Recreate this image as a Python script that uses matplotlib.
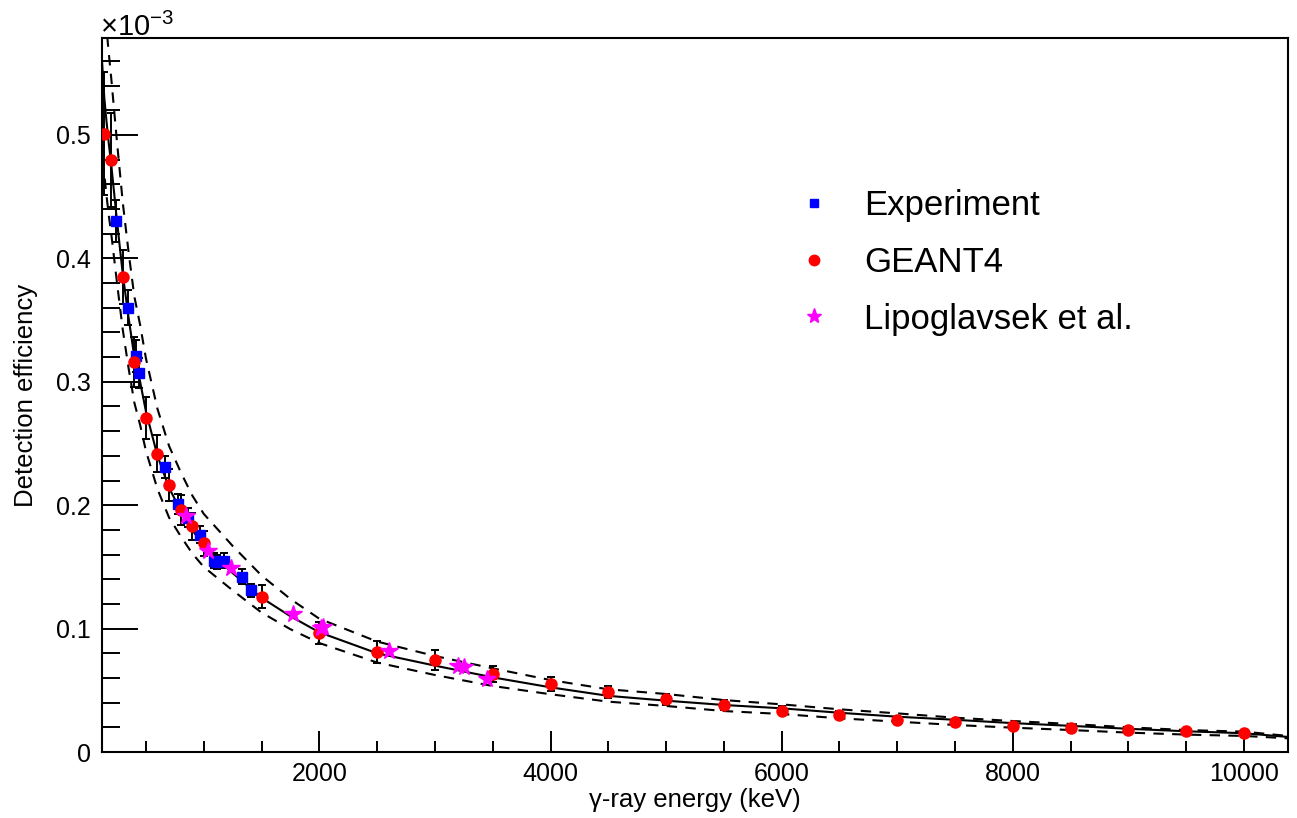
import matplotlib
matplotlib.use("Agg")
import matplotlib.pyplot as plt
from matplotlib.lines import Line2D
from matplotlib.ticker import MultipleLocator

plt.rcParams['font.family'] = ['Liberation Sans', 'DejaVu Sans']
plt.rcParams['mathtext.fontset'] = 'custom'
plt.rcParams['mathtext.rm'] = 'Liberation Sans'

# ------------------------------------------------------------------
# dados (eficiência em unidades de 1e-3)
# ------------------------------------------------------------------
exp_E = [244.7, 344.3, 411.1, 444.0, 661.7, 778.9, 867.4, 964.1,
         1085.8, 1112.1, 1173.2, 1332.5, 1408.0]
exp_eff = [0.430, 0.360, 0.321, 0.307, 0.231, 0.201, 0.190, 0.176,
           0.155, 0.154, 0.155, 0.142, 0.131]
exp_err = [0.017, 0.014, 0.013, 0.012, 0.009, 0.008, 0.008, 0.007,
           0.006, 0.006, 0.006, 0.006, 0.005]

g4_E = [140, 200, 300, 400, 500, 600, 700, 800, 900, 1000, 1500,
        2000, 2500, 3000, 3500, 4000, 4500, 5000, 5500, 6000, 6500,
        7000, 7500, 8000, 8500, 9000, 9500, 10000]
g4_eff = [0.501, 0.480, 0.385, 0.316, 0.271, 0.2415, 0.216, 0.196,
          0.183, 0.169, 0.126, 0.0964, 0.0813, 0.0746, 0.0635, 0.0551,
          0.0484, 0.0427, 0.0381, 0.0335, 0.0300, 0.0259, 0.0246,
          0.0211, 0.0192, 0.0178, 0.0170, 0.0151]
g4_err = [0.050, 0.038, 0.022, 0.020, 0.017, 0.015, 0.013, 0.012,
          0.011, 0.010, 0.0095, 0.0088, 0.0090, 0.0081, 0.0065, 0.0055,
          0.0050, 0.0045, 0.0040, 0.0035, 0.0030, 0.0027, 0.0025,
          0.0021, 0.0020, 0.0018, 0.0017, 0.0015]

lip_E = [846.8, 1037.8, 1238.3, 1771.4, 2015.2, 2034.8, 2598.5,
         3201.9, 3253.5, 3451.2]
lip_eff = [0.191, 0.163, 0.149, 0.112, 0.1005, 0.1010, 0.0818,
           0.0697, 0.0686, 0.0589]

# curva ajustada e banda
fit_E = [120, 140, 160, 180, 200, 250, 300, 350, 400, 450, 500, 600,
         700, 800, 900, 1000, 1250, 1500, 1750, 2000, 2500, 3000, 3500,
         4000, 4500, 5000, 5500, 6000, 6500, 7000, 7500, 8000, 8500,
         9000, 9500, 10000, 10380]
fit_mid = [0.560, 0.530, 0.510, 0.492, 0.476, 0.430, 0.387, 0.352,
           0.320, 0.300, 0.276, 0.240, 0.214, 0.196, 0.180, 0.167,
           0.145, 0.125, 0.110, 0.097, 0.080, 0.0700, 0.0605, 0.0524,
           0.0455, 0.0416, 0.0381, 0.0354, 0.0318, 0.0286, 0.0261,
           0.0234, 0.0212, 0.0188, 0.0168, 0.0152, 0.0122]
fit_hi = [0.645, 0.610, 0.585, 0.565, 0.546, 0.494, 0.445, 0.405,
          0.369, 0.346, 0.319, 0.278, 0.248, 0.227, 0.208, 0.193,
          0.167, 0.143, 0.124, 0.108, 0.0895, 0.0778, 0.0678, 0.0583,
          0.0508, 0.0470, 0.0421, 0.0386, 0.0346, 0.0313, 0.0278,
          0.0251, 0.0227, 0.0200, 0.0178, 0.0165, 0.0130]
fit_lo = [0.495, 0.468, 0.450, 0.434, 0.420, 0.380, 0.342, 0.311,
          0.283, 0.265, 0.244, 0.213, 0.190, 0.175, 0.161, 0.150,
          0.131, 0.113, 0.0995, 0.0883, 0.0725, 0.0624, 0.0535, 0.0468,
          0.0408, 0.0373, 0.0332, 0.0308, 0.0273, 0.0246, 0.0219,
          0.0197, 0.0178, 0.0157, 0.0141, 0.0130, 0.0111]

# ------------------------------------------------------------------
# figura
# ------------------------------------------------------------------
fig = plt.figure(figsize=(12.97, 8.18), dpi=100)
ax = fig.add_axes([102/1297, 1 - 752/818, 1186/1297, 714/818])

ax.plot(fit_E, fit_mid, color="black", lw=1.5, zorder=2)
ax.plot(fit_E, fit_hi, color="black", lw=1.5, ls=(0, (5, 4)), zorder=2)
ax.plot(fit_E, fit_lo, color="black", lw=1.5, ls=(0, (5, 4)), zorder=2)

ax.errorbar(exp_E, exp_eff, yerr=exp_err, fmt="none", ecolor="black",
            elinewidth=1.4, capsize=3, capthick=1.4, zorder=3)
ax.errorbar(g4_E, g4_eff, yerr=g4_err, fmt="none", ecolor="black",
            elinewidth=1.4, capsize=3, capthick=1.4, zorder=3)

ax.plot(exp_E, exp_eff, ls="none", marker="s", ms=6.5, color="#0000ff",
        mec="#0000ff", zorder=4)
ax.plot(g4_E, g4_eff, ls="none", marker="o", ms=8, color="#ff0000",
        mec="#ff0000", zorder=5)
ax.plot(lip_E, lip_eff, ls="none", marker="*", ms=13, color="#ff00ff",
        mec="#ff00ff", zorder=6)

ax.set_xlim(120, 10380)
ax.set_ylim(0, 0.5786)

ax.xaxis.set_major_locator(MultipleLocator(2000))
ax.xaxis.set_minor_locator(MultipleLocator(500))
ax.yaxis.set_major_locator(MultipleLocator(0.1))
ax.yaxis.set_minor_locator(MultipleLocator(0.02))
ax.set_yticks([0, 0.1, 0.2, 0.3, 0.4, 0.5])
ax.set_yticklabels(["0", "0.1", "0.2", "0.3", "0.4", "0.5"])

ax.tick_params(axis="both", which="both", direction="in", top=False,
               right=False, width=1.4, labelsize=18)
ax.tick_params(axis="y", which="major", length=25.6, pad=8)
ax.tick_params(axis="y", which="minor", length=12.8)
ax.tick_params(axis="x", which="major", length=15.4, pad=7)
ax.tick_params(axis="x", which="minor", length=7.7)
for s in ax.spines.values():
    s.set_linewidth(1.5)

ax.set_xlabel("γ-ray energy (keV)", fontsize=18.5)
ax.set_ylabel("Detection efficiency", fontsize=18.5)
ax.xaxis.set_label_coords(0.5, -0.05)
ax.yaxis.set_label_coords(-0.054, 0.5)

fig.text(100/1297, 1 - 36/818, r"$\times10^{-3}$", fontsize=21,
         ha="left", va="baseline")

handles = [
    Line2D([], [], ls="none", marker="s", ms=6, color="#0000ff"),
    Line2D([], [], ls="none", marker="o", ms=7.5, color="#ff0000"),
    Line2D([], [], ls="none", marker="*", ms=11, color="#ff00ff"),
]
ax.legend(handles, ["Experiment", "GEANT4", "Lipoglavsek et al."],
          loc="upper left", bbox_to_anchor=(779/1297, 1 - 172/818),
          bbox_transform=fig.transFigure, frameon=False, fontsize=25,
          handlelength=1.0, handletextpad=0.95, labelspacing=0.68,
          borderpad=0.0)

plt.savefig("out.png", dpi=100)
